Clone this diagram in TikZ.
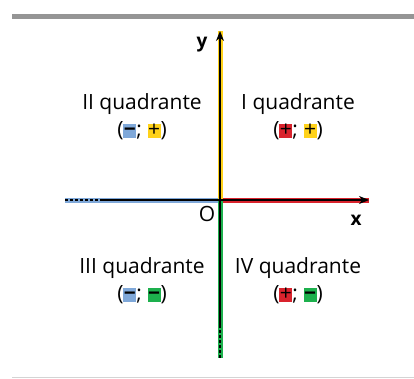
\documentclass[tikz,border=0pt]{standalone}
\usepackage{fontspec}
\setmainfont{Open Sans}
\usepackage{xcolor}
\usetikzlibrary{arrows.meta,positioning}
\definecolor{bluex}{HTML}{7FA8D9}
\definecolor{yellowx}{HTML}{FFD21A}
\definecolor{redx}{HTML}{D9232D}
\definecolor{greenx}{HTML}{1DB04D}
\definecolor{bargray}{HTML}{959595}
\definecolor{rulegray}{HTML}{D4D4D4}
\newcommand\sgnbox[2]{{\setlength\fboxsep{0pt}\colorbox{#1}{\makebox[13pt]{\rule[-1.5pt]{0pt}{14pt}#2}}}}
\tikzset{
  band/.style={line width=5pt},
  axline/.style={line width=1.3pt,black},
  quad/.style={font=\fontsize{21}{24}\selectfont,align=center,inner sep=0pt},
  sig/.style={font=\fontsize{21}{24}\selectfont,inner sep=0pt},
  axlab/.style={font=\fontsize{19}{22}\selectfont\bfseries,inner sep=0pt}
}
\begin{document}
\begin{tikzpicture}[x=1pt,y=-1pt]
\useasboundingbox (0,0) rectangle (414,379);
\fill[bargray] (12,14) rectangle (414,19);
\draw[rulegray,line width=1pt] (12,377.5)--(414,377.5);
\coordinate (O) at (220,200);
\coordinate (xl) at (65,200);
\coordinate (xd) at (102,200);
\coordinate (xr) at (369,200);
\coordinate (yt) at (220,31);
\coordinate (yb) at (220,358);
\coordinate (yd) at (220,325);
% colour bands
\draw[band,bluex] (xl)--(O);
\draw[band,redx] (O)--(xr);
\draw[band,yellowx] (O)--(yt);
\draw[band,greenx] (O)--(yb);
% black axes
\draw[axline,dashed,dash pattern=on 3pt off 2pt] (xl)--(xd);
\draw[axline] (xd)--(O);
\draw[axline,-{Stealth[length=10pt,width=8pt]}] (O)--(xr);
\draw[axline,-{Stealth[length=10pt,width=8pt]}] (O)--(yt);
\draw[axline] (O)--(yd);
\draw[axline,dashed,dash pattern=on 3pt off 2pt] (yd)--(yb);
\node[axlab] (ylab) at (202,45) {y};
\node[axlab] (xlab) at (356,220) {x};
\node[sig] (olab) at (207,214) {O};
% quadrants
\node[quad] (q2) at (142,104) {II quadrante};
\node[quad] (q1) at (298,104) {I quadrante};
\node[quad] (q3) at (142,268) {III quadrante};
\node[quad] (q4) at (298,268) {IV quadrante};
\node[sig,below=7pt of q2] (s2) {(\sgnbox{bluex}{\textbf{−}}; \sgnbox{yellowx}{+})};
\node[sig,below=7pt of q1] (s1) {(\sgnbox{redx}{+}; \sgnbox{yellowx}{+})};
\node[sig,below=7pt of q3] (s3) {(\sgnbox{bluex}{\textbf{−}}; \sgnbox{greenx}{\textbf{−}})};
\node[sig,below=7pt of q4] (s4) {(\sgnbox{redx}{+}; \sgnbox{greenx}{\textbf{−}})};
\end{tikzpicture}
\end{document}
